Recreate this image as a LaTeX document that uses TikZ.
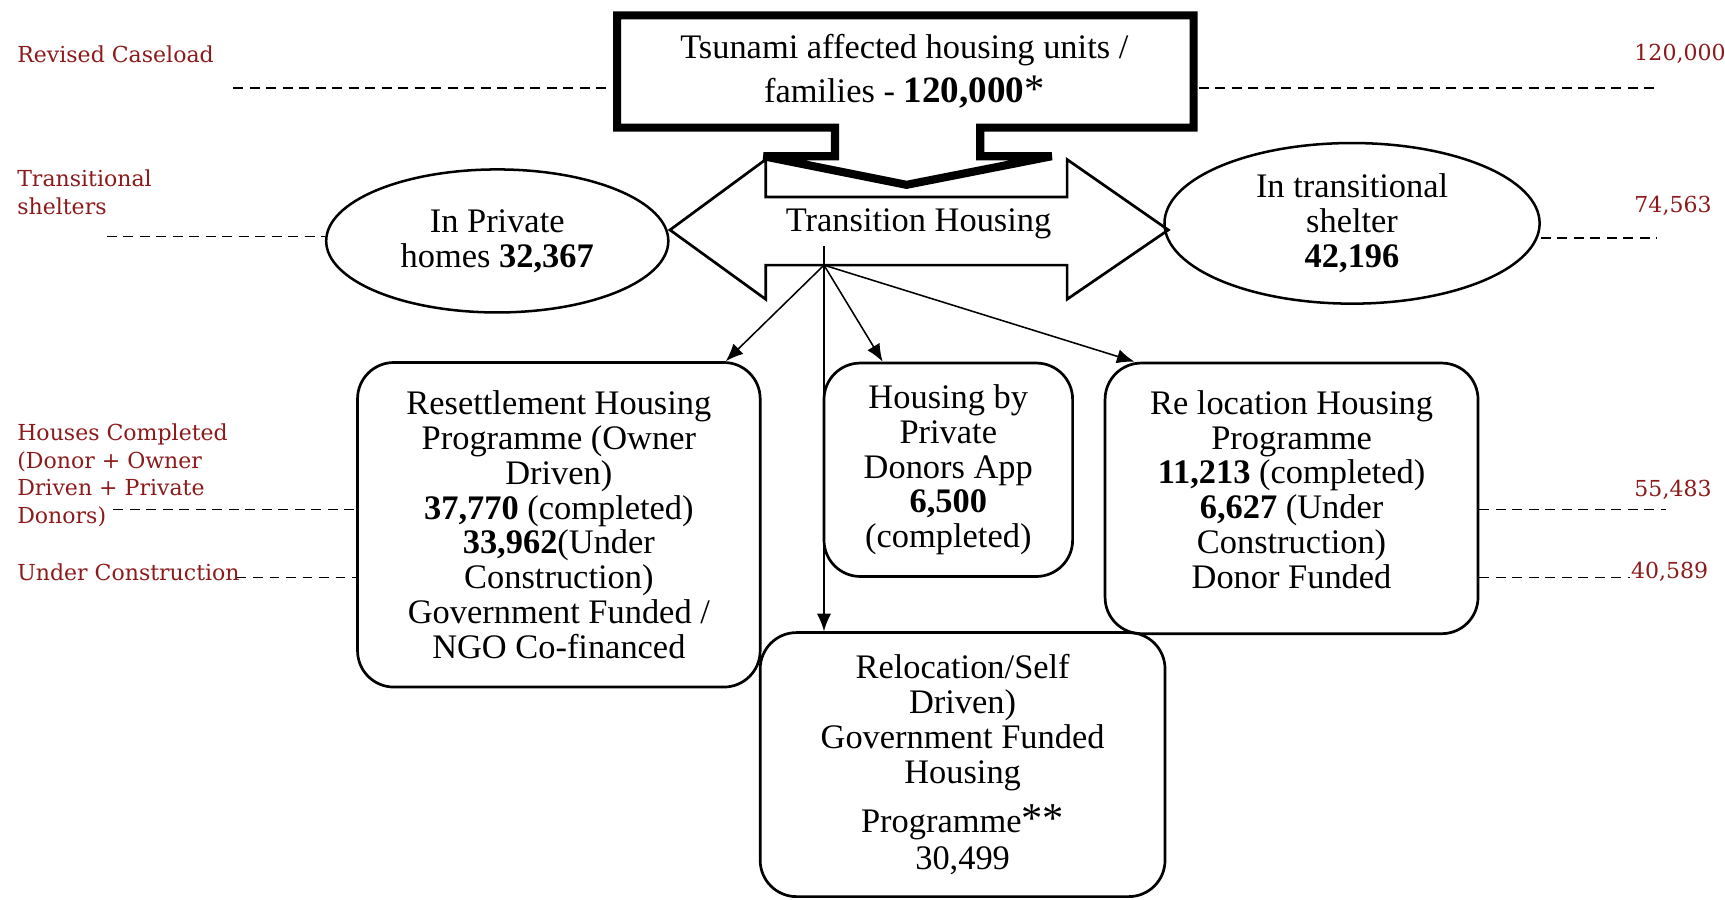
\documentclass[tikz,border=0pt]{standalone}
\usepackage{fontspec}
\setmainfont{Liberation Serif}
\newfontfamily\notefont{DejaVu Serif}
\usepackage{xcolor}
\usetikzlibrary{shapes.geometric,arrows.meta,calc}
\definecolor{notered}{RGB}{140,26,26}

\begin{document}
\begin{tikzpicture}[x=0.1mm,y=-0.1mm,
  every node/.style={font=\fontsize{8.9}{9}\selectfont},
  note/.style={font=\notefont\fontsize{5.7}{7.2}\selectfont,text=notered,inner sep=0pt,align=left},
  guide/.style={line width=0.45pt,dash pattern=on 0.9mm off 0.6mm},
  prog/.style={draw,line width=0.7pt,rounded corners=3.3mm,align=center,inner sep=0pt},
  shelter/.style={draw,ellipse,line width=0.65pt,align=center,inner sep=0pt},
  feed/.style={line width=0.4pt,-{Latex[length=1.6mm,width=1.3mm]}}]
  \useasboundingbox (0,0) rectangle (1568,818);

  % Transition housing double arrow
  \draw[line width=0.7pt] (609,209) -- (696,145) -- (696,179) -- (970,179) -- (970,145)
    -- (1062,209) -- (970,272) -- (970,241) -- (696,241) -- (696,272) -- cycle;
  \node (transit) at (835,203) {Transition Housing};
  \coordinate (hub) at (749,241);
  \coordinate (hubtop) at (749,224);

  % Affected housing box with the down notch
  \draw[line width=2.1pt] (561,14) -- (1085,14) -- (1085,116) -- (891,116) -- (891,142)
    -- (956,142) -- (824,168) -- (694,142) -- (759,142) -- (759,116) -- (561,116) -- cycle;
  \node[align=center,minimum width=53.4mm,minimum height=10.9mm,inner sep=0pt] (affected) at (822,65)
    {Tsunami affected housing units /\\[2.3pt]
     families - {\fontsize{9.6}{9}\selectfont\bfseries 120,000}{\fontsize{10.5}{9}\selectfont*}};

  % Shelters
  \node[shelter,minimum width=31.1mm,minimum height=13mm] (privhome) at (452,219)
    {In Private\\homes \textbf{32,367}};
  \node[shelter,minimum width=34.1mm,minimum height=14.6mm] (tshelter) at (1229,203)
    {In transitional\\shelter\\\textbf{42,196}};

  % Housing programmes
  \node[prog,minimum width=36.6mm,minimum height=29.5mm] (resettle) at (508,477)
    {Resettlement Housing\\Programme (Owner\\Driven)\\\textbf{37,770} (completed)\\
     \textbf{33,962}(Under\\Construction)\\Government Funded /\\NGO Co-financed};
  \node[prog,minimum width=22.6mm,minimum height=19.4mm] (privdon) at (862,427)
    {Housing by\\Private\\Donors App\\\textbf{6,500}\\(completed)};
  \node[prog,minimum width=33.9mm,minimum height=24.6mm] (reloc) at (1174,453) {};
  \node[align=center] (reloctext) at ($(reloc)+(0,-8)$)
    {Re location Housing\\Programme\\\textbf{11,213} (completed)\\\textbf{6,627} (Under\\Construction)\\Donor Funded};
  \node[prog,minimum width=36.8mm,minimum height=24mm] (selfdrv) at (875,695)
    {Relocation/Self\\Driven)\\Government Funded\\Housing\\[2.6pt]
     Programme{\fontsize{11}{9}\selectfont**}\\[0.6pt]30,499};

  % Arrows from transition housing
  \draw[feed] (hub) -- (resettle);
  \draw[feed] (hub) -- (privdon);
  \draw[feed] (hub) -- ($(reloc.north west)+(28,0)$);
  \draw[feed] (hubtop) -- (hubtop |- selfdrv.north);

  % Caseload guide lines
  \coordinate (rc-l) at (212,80);  \coordinate (rc-r) at (1509,80);
  \coordinate (ts-l) at (97,215);  \coordinate (ts-r) at (1506,216);
  \coordinate (hc-l) at (103,463); \coordinate (hc-r) at (1514,463);
  \coordinate (uc-l) at (215,525); \coordinate (uc-r) at (1482,525);
  \draw[guide] (rc-l) -- (rc-l -| affected.west);
  \draw[guide] (affected.east |- rc-r) -- (rc-r);
  \draw[guide] (ts-l) -- (ts-l -| privhome.west);
  \draw[guide] (tshelter.east |- ts-r) -- (ts-r);
  \draw[guide] (hc-l) -- (hc-l -| resettle.west);
  \draw[guide] (reloc.east |- hc-r) -- (hc-r);
  \draw[guide] (uc-l) -- (uc-l -| resettle.west);
  \draw[guide] (reloc.east |- uc-r) -- (uc-r);

  % Labels
  \node[note,anchor=west] (lrc) at (15,49) {Revised Caseload};
  \node[note,anchor=west] (lts) at (15,175) {Transitional\\shelters};
  \node[note,anchor=west] (lhc) at (15,432) {Houses Completed\\(Donor + Owner\\Driven + Private\\Donors)};
  \node[note,anchor=west] (luc) at (15,520) {Under Construction};
  \node[note,anchor=west] (nrc) at (1485,49) {120,000};
  \node[note,anchor=west] (nts) at (1485,187) {74,563};
  \node[note,anchor=west] (nhc) at (1485,445) {55,483};
  \node[note,anchor=west] (nuc) at (1482,520) {40,589};
\end{tikzpicture}
\end{document}
